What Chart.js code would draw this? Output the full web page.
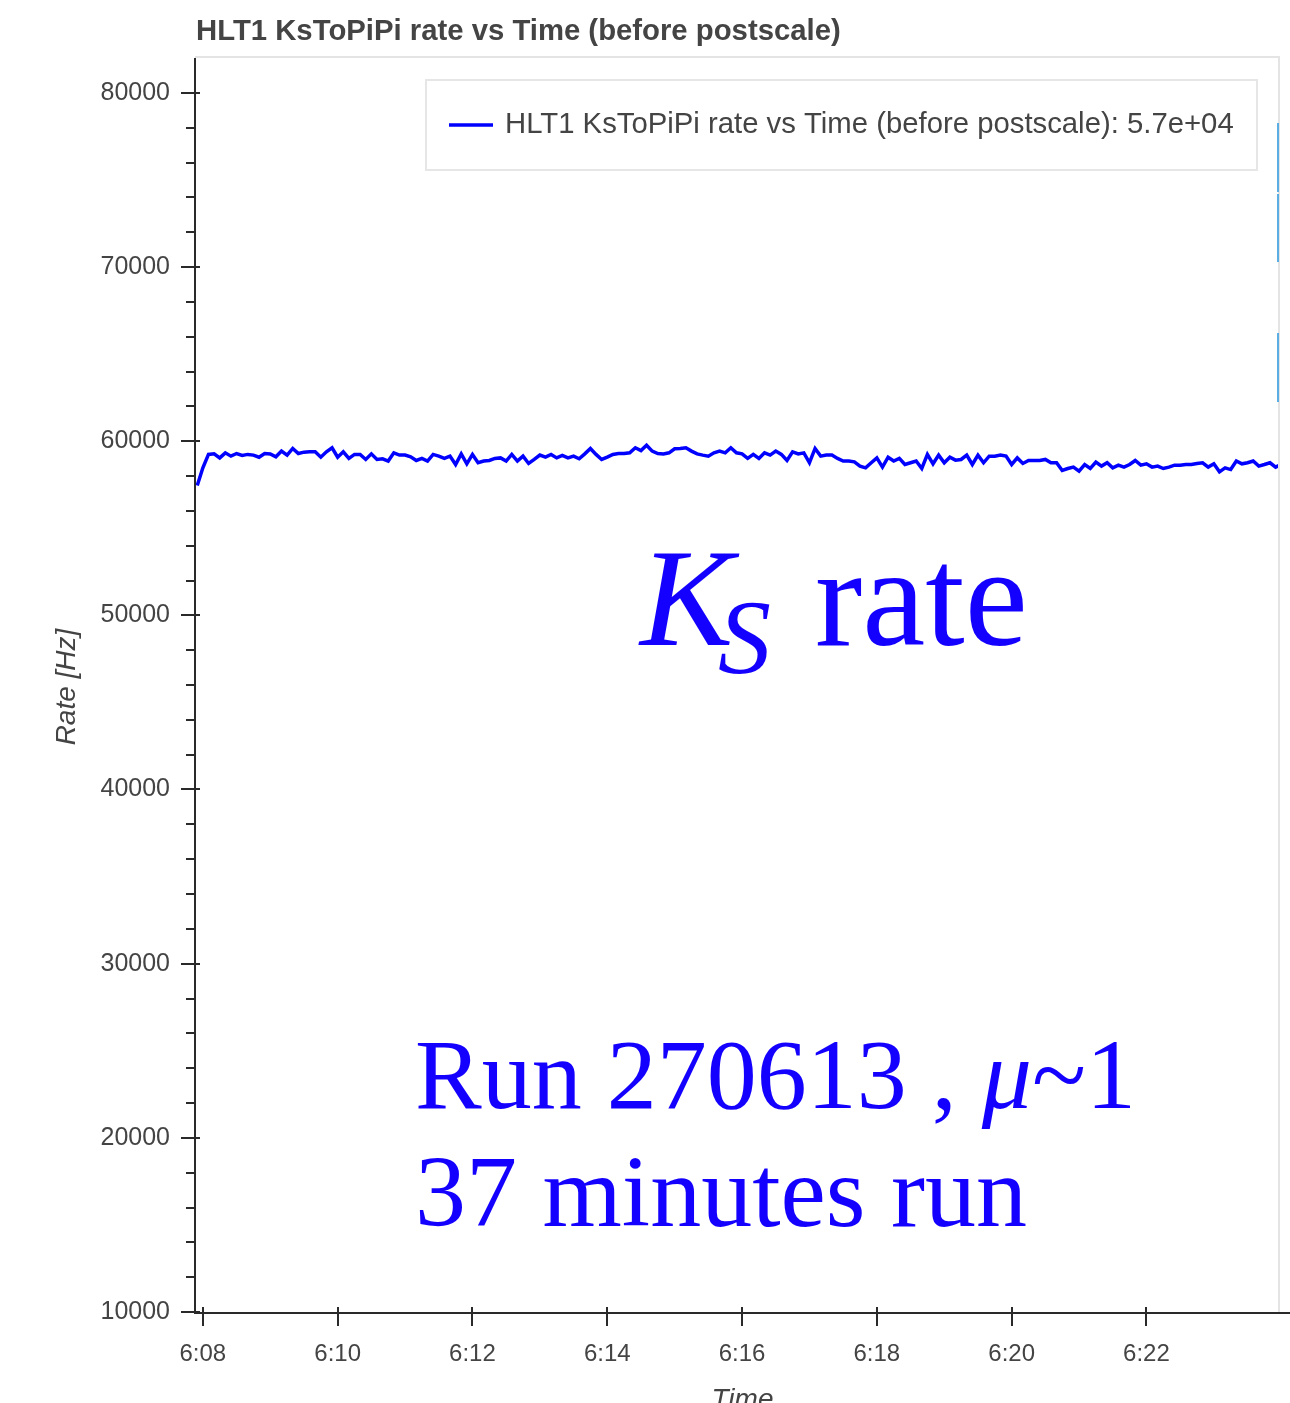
<!DOCTYPE html>
<html>
<head>
<meta charset="utf-8">
<title>HLT1 KsToPiPi rate</title>
<script src="https://cdn.jsdelivr.net/npm/chart.js@4.4.1/dist/chart.umd.min.js"></script>
<style>
  html, body { margin: 0; padding: 0; background: #fff; }
  #rateChart { display: block; }
</style>
</head>
<body>
<canvas id="rateChart" width="1290" height="1403"></canvas>
<script>
const titleText = 'HLT1 KsToPiPi rate vs Time (before postscale)';
const seriesName = 'HLT1 KsToPiPi rate vs Time (before postscale)';

// first sample at 6:07:55, one sample every 5 s
const firstSample = [6, 7, 55];
const sampleStep = 5;

// rate in Hz
const rates = [
  57450, 58470, 59240, 59270, 59040, 59330, 59140, 59290, 59180, 59240,
  59200, 59080, 59290, 59270, 59100, 59430, 59200, 59580, 59290, 59370,
  59390, 59390, 59080, 59390, 59620, 59080, 59390, 59010, 59240, 59240,
  58950, 59270, 58950, 58990, 58860, 59330, 59200, 59200,
  59100, 58890, 59010, 58860, 59240, 59140, 59010, 59140, 58660, 59270,
  58700, 59240, 58760, 58860, 58890, 59010, 59040, 58860, 59240, 58860,
  59140, 58720, 58950, 59200, 59080, 59240, 59040, 59180, 59040, 59140,
  58990, 59270, 59580, 59240, 58950, 59080, 59240, 59290, 59290,
  59330, 59620, 59460, 59770, 59430, 59290, 59270, 59330, 59560, 59580,
  59620, 59430, 59270, 59200, 59140, 59330, 59430, 59330, 59620, 59330,
  59270, 59010, 59240, 59010, 59330, 59200, 59430, 59240, 58890, 59390,
  59270, 59330, 58760, 59580, 59140, 59200, 59200, 59010, 58860,
  58860, 58810, 58570, 58470, 58760, 59040, 58510, 59080, 58860, 59010,
  58660, 58760, 58860, 58430, 59240, 58700, 59200, 58760, 59080, 58910,
  58950, 59200, 58660, 59200, 58760, 59140, 59140, 59200, 59140, 58660,
  59040, 58720, 58890, 58890, 58890, 58950, 58760, 58760, 58320,
  58430, 58510, 58280, 58660, 58430, 58800, 58570, 58760, 58470, 58620,
  58510, 58660, 58890, 58620, 58700, 58510, 58570, 58430, 58510, 58620,
  58620, 58660, 58660, 58720, 58760, 58510, 58700, 58240, 58470, 58370,
  58860, 58700, 58760, 58860, 58570, 58660, 58760, 58510, 58660, 58860,
  58890
];

const timeTicks = ['6:08', '6:10', '6:12', '6:14', '6:16', '6:18', '6:20', '6:22'];
const rateTicks = [10000, 20000, 30000, 40000, 50000, 60000, 70000, 80000];
const rateMinorStep = 2000;
const rateRange = [10000, 82000];
const timeRange = ['6:07:53', '6:23:58'];

const TEXT = '#444';
const AXIS = '#2a2a2a';
const BLUE = '#0000ff';
const NOTE = '#1400ff';

function toSec(label) {
  const p = label.split(':').map(Number);
  return p[0] * 3600 + p[1] * 60 + (p[2] || 0);
}
function fmtTime(sec) {
  const h = Math.floor(sec / 3600);
  const m = Math.floor((sec % 3600) / 60);
  return h + ':' + String(m).padStart(2, '0');
}
function fmtExp(v) {
  return v.toExponential(1).replace(/e([+-])(\d)$/, 'e$10$2');
}

const t0 = firstSample[0] * 3600 + firstSample[1] * 60 + firstSample[2];
const points = rates.map((r, i) => ({ x: t0 + i * sampleStep, y: r }));

const decorations = {
  id: 'decorations',
  beforeDraw(chart) {
    const ctx = chart.ctx;
    ctx.save();
    ctx.fillStyle = '#fff';
    ctx.fillRect(0, 0, chart.width, chart.height);
    ctx.restore();
  },
  afterDraw(chart) {
    const ctx = chart.ctx;
    const area = chart.chartArea;
    const xs = chart.scales.x;
    const ys = chart.scales.y;
    ctx.save();

    // light frame on top and right of the plot
    ctx.strokeStyle = '#e4e4e4';
    ctx.lineWidth = 2;
    ctx.beginPath();
    ctx.moveTo(area.left, area.top - 1);
    ctx.lineTo(area.right, area.top - 1);
    ctx.lineTo(area.right, area.bottom);
    ctx.stroke();
    ctx.strokeStyle = '#5aaee4';
    [[123, 192], [194, 262], [333, 402]].forEach(s => {
      ctx.beginPath();
      ctx.moveTo(area.right - 1, s[0]);
      ctx.lineTo(area.right - 1, s[1]);
      ctx.stroke();
    });

    // axis lines
    ctx.strokeStyle = AXIS;
    ctx.lineWidth = 2;
    ctx.beginPath();
    ctx.moveTo(area.left, area.top);
    ctx.lineTo(area.left, area.bottom + 1);
    ctx.lineTo(chart.width, area.bottom + 1);
    ctx.stroke();

    // y ticks, major and minor
    ys.ticks.forEach(t => {
      if (t.value >= ys.max) return;
      const py = Math.round(ys.getPixelForValue(t.value));
      const major = rateTicks.includes(t.value);
      ctx.beginPath();
      ctx.moveTo(area.left - (major ? 14 : 9), py);
      ctx.lineTo(area.left + (major ? 5 : 0), py);
      ctx.stroke();
    });
    // x ticks
    xs.ticks.forEach(t => {
      const px = Math.round(xs.getPixelForValue(t.value));
      ctx.beginPath();
      ctx.moveTo(px, area.bottom - 5);
      ctx.lineTo(px, area.bottom + 14);
      ctx.stroke();
    });

    // title
    ctx.fillStyle = TEXT;
    ctx.font = 'bold 29.3px "Liberation Sans", Arial, sans-serif';
    ctx.textAlign = 'left';
    ctx.textBaseline = 'alphabetic';
    ctx.fillText(titleText, area.left + 1, 40);

    // axis titles
    ctx.font = 'italic 28px "Liberation Sans", Arial, sans-serif';
    ctx.textAlign = 'center';
    ctx.save();
    ctx.translate(67, (area.top + area.bottom) / 2 + 2);
    ctx.rotate(-Math.PI / 2);
    ctx.textBaseline = 'middle';
    ctx.fillText('Rate [Hz]', 0, 0);
    ctx.restore();
    ctx.textBaseline = 'top';
    ctx.fillText('Time', (area.left + chart.width) / 2, 1386);

    // legend box
    const ds = chart.data.datasets[0];
    ctx.fillStyle = '#fff';
    ctx.fillRect(426, 80, 831, 90);
    ctx.strokeStyle = '#e6e6e6';
    ctx.lineWidth = 2;
    ctx.strokeRect(426, 80, 831, 90);
    ctx.strokeStyle = ds.borderColor;
    ctx.lineWidth = 3.5;
    ctx.beginPath();
    ctx.moveTo(449, 125);
    ctx.lineTo(493, 125);
    ctx.stroke();
    ctx.fillStyle = TEXT;
    ctx.font = '29.3px "Liberation Sans", Arial, sans-serif';
    ctx.textAlign = 'left';
    ctx.textBaseline = 'middle';
    ctx.fillText(ds.label + ': ' + fmtExp(ds.data[0].y), 505, 125);

    // annotations
    ctx.fillStyle = NOTE;
    ctx.textBaseline = 'alphabetic';
    ctx.font = 'italic 140px "Liberation Serif", serif';
    ctx.fillText('K', 640, 645);
    ctx.font = 'italic 106px "Liberation Serif", serif';
    ctx.fillText('S', 718, 673);
    ctx.font = '142px "Liberation Serif", serif';
    ctx.fillText('rate', 815, 645);

    ctx.font = '100px "Liberation Serif", serif';
    let x = 415;
    const part1 = 'Run 270613 , ';
    ctx.fillText(part1, x, 1108);
    x += ctx.measureText(part1).width;
    ctx.font = 'italic 100px "Liberation Serif", serif';
    ctx.fillText('\u03bc', x, 1108);
    x += ctx.measureText('\u03bc').width;
    ctx.font = '100px "Liberation Serif", serif';
    ctx.fillText('~1', x, 1108);
    ctx.font = '102px "Liberation Serif", serif';
    ctx.fillText('37 minutes run', 415, 1226);

    ctx.restore();
  }
};

new Chart(document.getElementById('rateChart'), {
  type: 'line',
  data: {
    datasets: [{
      label: seriesName,
      data: points,
      borderColor: BLUE,
      borderWidth: 3.5,
      pointRadius: 0,
      tension: 0,
      fill: false
    }]
  },
  options: {
    responsive: false,
    animation: false,
    devicePixelRatio: 1,
    layout: { padding: { top: 58, right: 11, left: 0, bottom: 0 } },
    plugins: {
      legend: { display: false },
      title: { display: false },
      tooltip: { enabled: false }
    },
    scales: {
      x: {
        type: 'linear',
        min: toSec(timeRange[0]),
        max: toSec(timeRange[1]),
        afterBuildTicks: scale => {
          scale.ticks = timeTicks.map(l => ({ value: toSec(l) }));
        },
        afterFit: scale => { scale.height = 91; },
        grid: { display: true, drawOnChartArea: false, drawTicks: false },
        border: { display: false },
        ticks: {
          autoSkip: false,
          maxRotation: 0,
          padding: 28,
          color: TEXT,
          font: { family: '"Liberation Sans", Arial, sans-serif', size: 24 },
          callback: v => fmtTime(v)
        }
      },
      y: {
        min: rateRange[0],
        max: rateRange[1],
        afterFit: scale => { scale.width = 195; },
        grid: { display: true, drawOnChartArea: false, drawTicks: false },
        border: { display: false },
        ticks: {
          stepSize: rateMinorStep,
          autoSkip: false,
          padding: 25,
          color: TEXT,
          font: { family: '"Liberation Sans", Arial, sans-serif', size: 25 },
          callback: v => rateTicks.includes(v) ? String(v) : ''
        }
      }
    }
  },
  plugins: [decorations]
});
</script>
</body>
</html>
